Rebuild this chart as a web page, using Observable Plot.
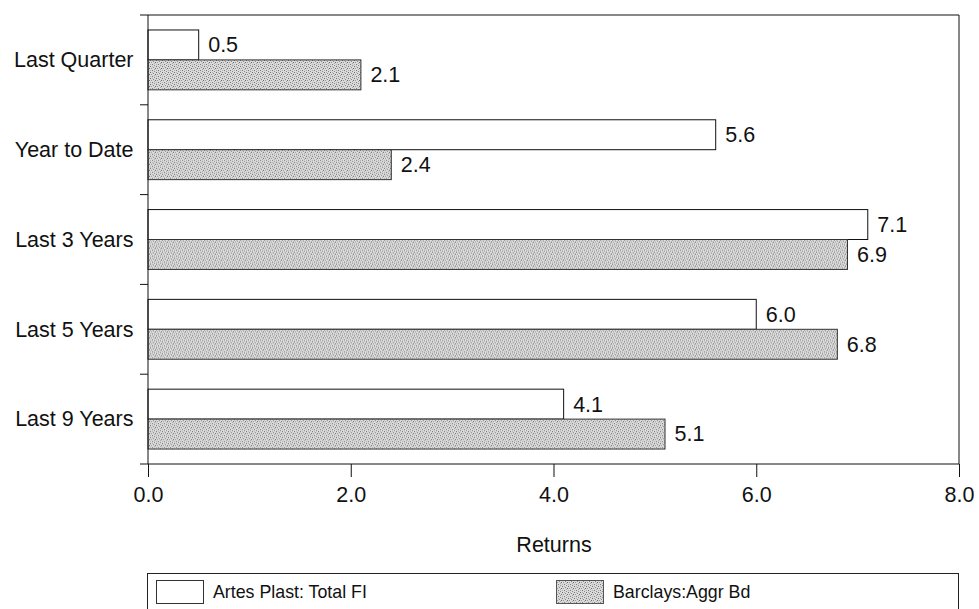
<!DOCTYPE html>
<html><head><meta charset="utf-8">
<script src="https://cdn.jsdelivr.net/npm/d3@7"></script>
<script src="https://cdn.jsdelivr.net/npm/@observablehq/plot@0.6"></script>
<style>
html,body{margin:0;padding:0;background:#fff;overflow:hidden;}
body{font-family:"Liberation Sans",Arial,sans-serif;color:#111;width:979px;height:609px;position:relative;}
#chart svg{display:block;}
#legend{position:absolute;left:147px;top:573px;width:812px;height:60px;border:1px solid #222;box-sizing:border-box;background:#fff;}
.item{position:absolute;top:6px;height:24px;display:flex;align-items:center;}
.item svg{display:block;margin-right:9px;}
.item span{font-size:17.8px;line-height:24px;color:#111;}
</style></head>
<body>
<div id="chart"></div>
<div id="legend"></div>
<script>
const categories = ["Last Quarter", "Year to Date", "Last 3 Years", "Last 5 Years", "Last 9 Years"];
const seriesNames = ["Artes Plast: Total FI", "Barclays:Aggr Bd"];
const artesValues = [0.5, 5.6, 7.1, 6.0, 4.1];
const barclaysValues = [2.1, 2.4, 6.9, 6.8, 5.1];
const xTicks = [0, 2, 4, 6, 8];
const xLabel = "Returns";

const rows = categories.flatMap((c, i) => [
  {category: c, series: seriesNames[0], value: artesValues[i]},
  {category: c, series: seriesNames[1], value: barclaysValues[i]}
]);
const fmt = d3.format(".1f");

const plot = Plot.plot({
  width: 979,
  height: 565,
  marginLeft: 148,
  marginRight: 20,
  marginTop: 15,
  marginBottom: 101,
  style: {fontFamily: "Liberation Sans, Arial, sans-serif", fontSize: "21.5px", color: "#111", background: "#fff"},
  x: {domain: [0, 8], ticks: xTicks, tickFormat: fmt, label: xLabel, labelAnchor: "center", labelArrow: "none", tickSize: 13, tickPadding: 9, labelOffset: 87},
  fy: {domain: categories, paddingInner: 0, paddingOuter: 0, round: false, axis: "left", label: null, tickSize: 0, tickPadding: 15},
  y: {domain: seriesNames, paddingInner: 0, paddingOuter: 0.5, round: false, axis: null},
  marks: [
    Plot.barX(rows.filter(d => d.series === seriesNames[0]), {fy: "category", y: "series", x: "value", fill: "white", stroke: "#111", strokeWidth: 1}),
    Plot.barX(rows.filter(d => d.series === seriesNames[1]), {fy: "category", y: "series", x: "value", fill: "url(#stipple)", stroke: "#333", strokeWidth: 1}),
    Plot.text(rows, {fy: "category", y: "series", x: "value", text: d => fmt(d.value), textAnchor: "start", dx: 9, fontSize: 21.5, fill: "#111"})
  ]
});

document.getElementById("chart").appendChild(plot);

(function () {
  function addPattern(svgSel, id) {
    const defs = svgSel.insert("defs", ":first-child");
    const p = defs.append("pattern").attr("id", id).attr("patternUnits", "userSpaceOnUse")
      .attr("width", 6).attr("height", 6);
    p.append("rect").attr("width", 6).attr("height", 6).attr("fill", "#dadada");
    const dots = [[0,0,"#707070"],[3,1,"#8a8a8a"],[1,2,"#9a9a9a"],[5,2,"#6a6a6a"],[2,4,"#7a7a7a"],[4,5,"#8a8a8a"],[0,4,"#b0b0b0"],[4,3,"#a8a8a8"],[2,0,"#b4b4b4"]];
    dots.forEach(([x, y, c]) => p.append("rect").attr("x", x).attr("y", y).attr("width", 1).attr("height", 1).attr("fill", c));
  }
  const svg = d3.select(plot);
  addPattern(svg, "stipple");

  const xs = plot.scale("x");
  const fys = plot.scale("fy");
  const [x0, x1] = xs.range;
  let starts;
  if (fys && typeof fys.apply === "function") starts = categories.map(c => fys.apply(c));
  else {
    const b = d3.scaleBand(categories, fys.range);
    starts = categories.map(c => b(c));
  }
  const bw = fys.bandwidth;
  const yTop = starts[0], yBottom = starts[starts.length - 1] + bw;
  const g = svg.append("g").attr("stroke", "#111").attr("stroke-width", 1).attr("fill", "none");
  starts.concat([yBottom]).forEach(y => g.append("line").attr("x1", x0 - 8).attr("x2", x0).attr("y1", y).attr("y2", y));
  g.append("line").attr("x1", x0).attr("x2", x1).attr("y1", yTop).attr("y2", yTop);
  g.append("line").attr("x1", x0).attr("x2", x1).attr("y1", yBottom).attr("y2", yBottom);
  g.append("line").attr("x1", x0).attr("x2", x0).attr("y1", yTop).attr("y2", yBottom);
  g.append("line").attr("x1", x1).attr("x2", x1).attr("y1", yTop).attr("y2", yBottom);

  const legend = d3.select("#legend");
  const legendLeft = [8, 408];
  seriesNames.forEach((name, i) => {
    const it = legend.append("div").attr("class", "item").style("left", legendLeft[i] + "px");
    const s = it.append("svg").attr("width", 48).attr("height", 24);
    s.append("rect").attr("x", 0.5).attr("y", 0.5).attr("width", 47).attr("height", 23)
      .attr("fill", i === 0 ? "white" : "url(#stipple)").attr("stroke", i === 0 ? "#333" : "#555");
    it.append("span").text(name);
  });
})();
</script>
</body></html>
